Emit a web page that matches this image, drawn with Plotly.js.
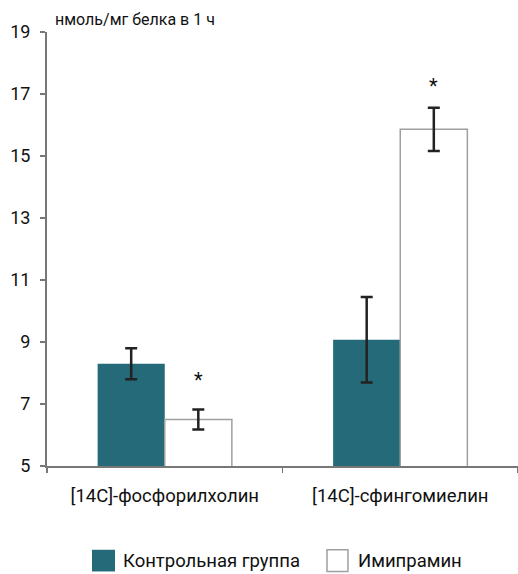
<!DOCTYPE html>
<html>
<head>
<meta charset="utf-8">
<script src="https://cdn.plot.ly/plotly-3.0.1.min.js"></script>
<style>html,body{margin:0;padding:0;background:#fff;}#chart{width:518px;height:574px;}</style>
</head>
<body>
<div id="chart"></div>
<script>
const categories = ["[14C]-фосфорилхолин", "[14C]-сфингомиелин"];
const seriesNames = ["Контрольная группа", "Имипрамин"];
const controlValues = [8.3, 9.07];
const controlErrors = [0.5, 1.38];
const imipramineValues = [6.5, 15.86];
const imipramineErrors = [0.32, 0.7];
const significanceMarks = ["*", "*"];
const significanceLevels = [7.9, 17.4];
const yTicks = [5, 7, 9, 11, 13, 15, 17, 19];
const yUnit = "нмоль/мг белка в 1 ч";

const FONT = "Roboto, 'DejaVu Sans', sans-serif";
const bargap = 0.43;
const barW = (1 - bargap) / 2;
const colors = {control: "#256a78", imipFill: "#ffffff", imipLine: "#a0a0a0"};

const traces = [
  {
    type: "bar", name: seriesNames[0], x: categories, y: controlValues,
    marker: {color: colors.control, line: {width: 0}},
    error_y: {type: "data", array: controlErrors, visible: true, color: "#222222", thickness: 2.5, width: 6}
  },
  {
    type: "bar", name: seriesNames[1], x: categories, y: imipramineValues,
    marker: {color: colors.imipFill, line: {color: colors.imipLine, width: 1.5}},
    error_y: {type: "data", array: imipramineErrors, visible: true, color: "#222222", thickness: 2.5, width: 6}
  }
];

const annotations = [{
  xref: "paper", yref: "paper", x: 0.013, y: 1.0, xanchor: "left", yanchor: "bottom",
  text: yUnit, showarrow: false, font: {family: FONT, size: 16, color: "#111"}, yshift: 1
}];
significanceMarks.forEach((m, i) => {
  if (m) {
    annotations.push({
      xref: "x", yref: "y", x: i + barW / 2, y: significanceLevels[i], yshift: -4,
      text: m, showarrow: false, font: {family: FONT, size: 20, color: "#111"}
    });
  }
});

// custom legend (large square swatches)
const legendItems = [
  {name: seriesNames[0], fill: colors.control, line: colors.control, x0: 0.0955, x1: 0.1444, tx: 0.157},
  {name: seriesNames[1], fill: colors.imipFill, line: colors.imipLine, x0: 0.5945, x1: 0.639, tx: 0.656}
];
const shapes = [];
legendItems.forEach(it => {
  shapes.push({type: "rect", xref: "paper", yref: "paper", x0: it.x0, x1: it.x1, y0: -0.243, y1: -0.193,
    fillcolor: it.fill, line: {color: it.line, width: it.fill === colors.control ? 0 : 1.5}});
  annotations.push({xref: "paper", yref: "paper", x: it.tx, y: -0.218, xanchor: "left", yanchor: "middle",
    text: it.name, showarrow: false, font: {family: FONT, size: 18.5, color: "#111"}});
});

const layout = {
  width: 518, height: 574,
  margin: {l: 47, r: 0, t: 32, b: 108, autoexpand: false},
  paper_bgcolor: "#fff", plot_bgcolor: "#fff",
  barmode: "group", bargap: bargap, bargroupgap: 0,
  font: {family: FONT, size: 15, color: "#222"},
  xaxis: {
    type: "category", showgrid: false, zeroline: false,
    showline: true, linecolor: "#777", linewidth: 2,
    ticks: "outside", tickson: "boundaries", ticklen: 5, tickcolor: "#777", tickwidth: 1.5,
    ticklabelstandoff: 12,
    tickfont: {family: FONT, size: 18.5, color: "#111"}
  },
  yaxis: {
    range: [5, 19], tickvals: yTicks, showgrid: false, zeroline: false,
    showline: true, linecolor: "#777", linewidth: 2,
    ticks: "outside", ticklen: 5, tickcolor: "#777", tickwidth: 1.5,
    ticklabelstandoff: 6,
    tickfont: {family: FONT, size: 18, color: "#111"}
  },
  showlegend: false,
  shapes: shapes,
  annotations: annotations
};

Plotly.newPlot("chart", traces, layout, {displayModeBar: false, staticPlot: true});
</script>
</body>
</html>
